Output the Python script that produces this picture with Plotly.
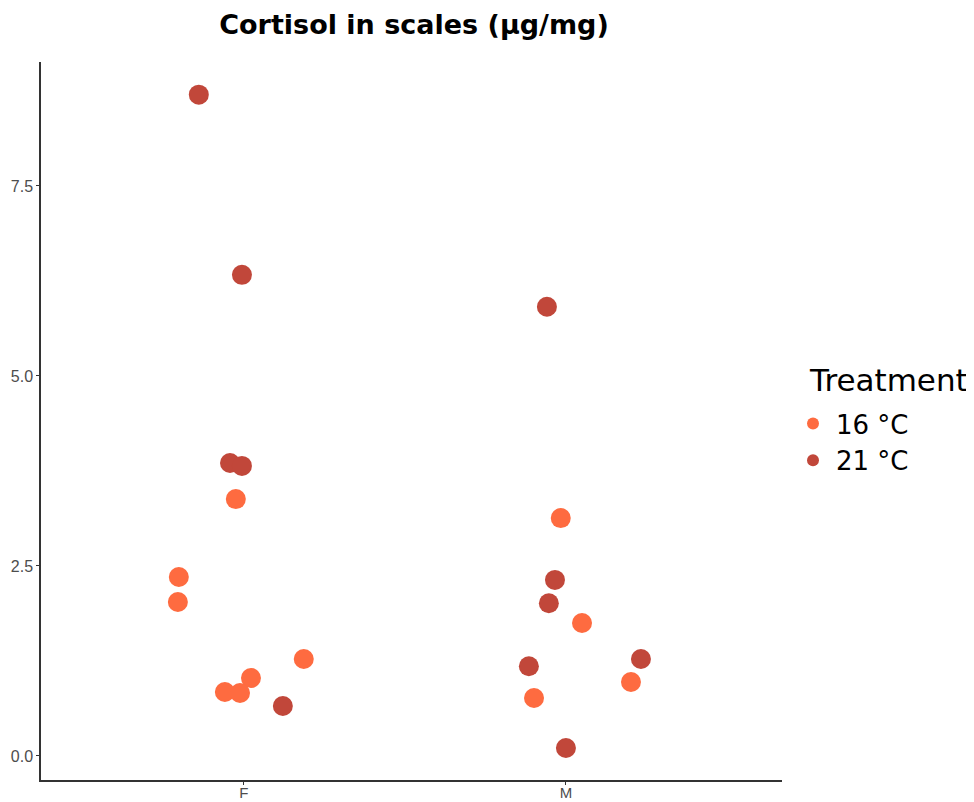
import plotly.graph_objects as go

categories = ["F", "M"]
cat_pos = [1, 2]

# 16 °C group
f16_y = [3.38, 2.355, 2.026, 1.276, 1.026, 0.842, 0.829]
f16_jit = [-0.025, -0.202, -0.205, 0.186, 0.022, -0.059, -0.012]
m16_y = [3.13, 1.75, 0.974, 0.763]
m16_jit = [-0.016, 0.050, 0.202, -0.099]

# 21 °C group
f21_y = [8.70, 6.33, 3.855, 3.816, 0.658]
f21_jit = [-0.140, -0.006, -0.043, -0.006, 0.121]
m21_y = [5.91, 2.316, 2.01, 1.18, 1.276, 0.105]
m21_jit = [-0.059, -0.034, -0.053, -0.115, 0.233, 0.0]

col16 = "#FE6B40"
col21 = "#C1473A"

x16 = [cat_pos[0] + j for j in f16_jit] + [cat_pos[1] + j for j in m16_jit]
y16 = f16_y + m16_y
x21 = [cat_pos[0] + j for j in f21_jit] + [cat_pos[1] + j for j in m21_jit]
y21 = f21_y + m21_y

W, H = 966, 794
L, R, T, B = 33, 192, 54, 22
PW, PH = W - L - R, H - T - B

fig = go.Figure()
fig.add_trace(go.Scatter(x=x16, y=y16, mode="markers", name="16 °C",
                         marker=dict(color=col16, size=20, line=dict(width=0))))
fig.add_trace(go.Scatter(x=x21, y=y21, mode="markers", name="21 °C",
                         marker=dict(color=col21, size=20, line=dict(width=0))))

axis_common = dict(showgrid=False, zeroline=False, showline=True, linecolor="#333333", linewidth=1.5,
                   ticks="outside", ticklen=3, tickcolor="#333333", tickwidth=1.2,
                   automargin=False, fixedrange=True)

fig.add_annotation(text="Treatment", xref="paper", yref="paper",
                   x=(799 - L) / PW, xanchor="left", y=(H - B - 372) / PH, yanchor="middle",
                   showarrow=False, font=dict(family="DejaVu Sans", size=31, color="black"))

fig.update_layout(
    width=W, height=H,
    margin=dict(l=L, r=R, t=T, b=B),
    plot_bgcolor="white", paper_bgcolor="white",
    title=dict(text="<b>Cortisol in scales (µg/mg)</b>", x=406 / W, xanchor="center",
               y=1 - 17 / H, yanchor="middle",
               font=dict(family="DejaVu Sans", size=27, color="black")),
    showlegend=True,
    legend=dict(font=dict(family="DejaVu Sans", size=26, color="black"),
                x=(782 - L) / PW, xanchor="left", y=(H - B - 392) / PH, yanchor="top",
                itemsizing="constant", itemwidth=36, bgcolor="rgba(0,0,0,0)"),
    xaxis=dict(range=[0.370, 2.671], tickvals=cat_pos, ticktext=categories,
               ticklabelstandoff=-5,
               tickfont=dict(family="Liberation Sans", size=15, color="#4D4D4D"),
               **axis_common),
    yaxis=dict(range=[-0.316, 9.13], tickvals=[0, 2.5, 5, 7.5], ticktext=["0.0", "2.5", "5.0", "7.5"],
               tickfont=dict(family="Liberation Sans", size=16, color="#4D4D4D"),
               **axis_common),
)

fig.write_html("out.html")
